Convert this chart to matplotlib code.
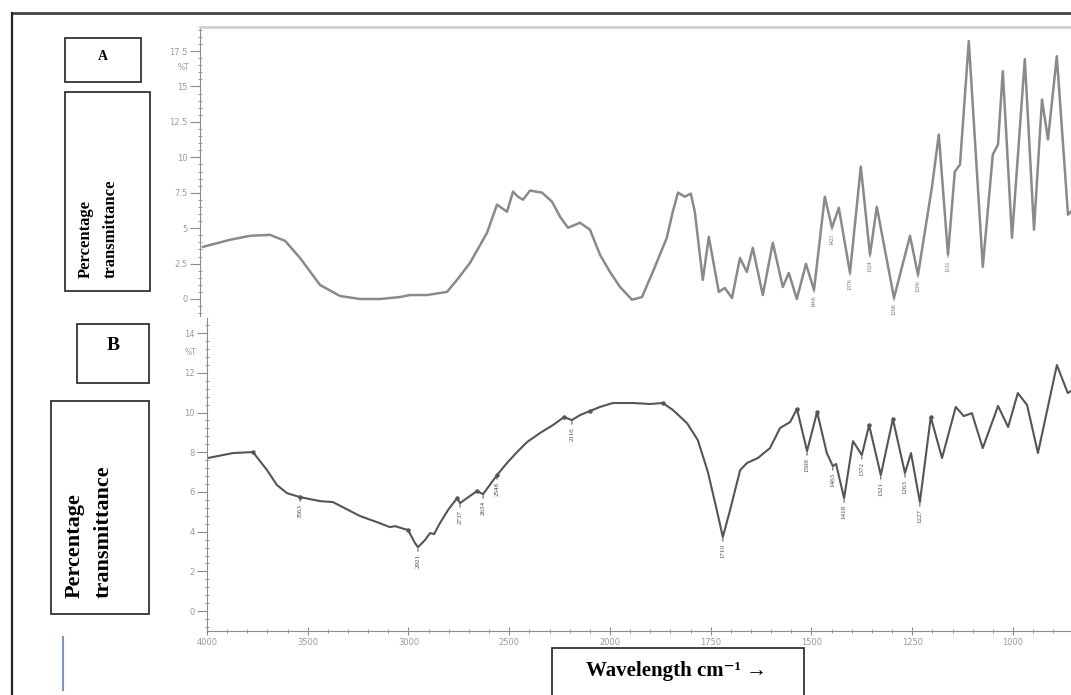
import matplotlib
matplotlib.use("Agg")
import matplotlib.pyplot as plt
import numpy as np
from matplotlib.patches import Rectangle
from matplotlib.lines import Line2D
from matplotlib.ticker import FixedLocator, MultipleLocator

W, H = 1071, 695

# ---- spectrum A (top panel), wavenumber cm-1 / %T
wn_a = [3985, 3850, 3750, 3650, 3575, 3500, 3400, 3300, 3200, 3100, 3000, 2950,
        2865, 2765, 2715, 2650, 2565, 2515, 2465, 2435, 2410, 2385, 2350, 2290,
        2240, 2200, 2160, 2100, 2050, 2000, 1975, 1950, 1920, 1895, 1868, 1833,
        1818, 1805, 1788, 1773, 1763, 1743, 1728, 1703, 1688, 1670, 1650, 1633,
        1618, 1593, 1568, 1543, 1528, 1508, 1485, 1465, 1438, 1420, 1403, 1375,
        1348, 1325, 1308, 1265, 1225, 1205, 1170, 1153, 1130, 1113, 1100, 1078,
        1043, 1018, 1005, 993, 970, 938, 915, 895, 880, 858, 830, 823]
t_a = [3.68, 4.18, 4.46, 4.53, 4.11, 2.90, 0.99, 0.21, 0.0, 0.0, 0.14, 0.28,
       0.28, 0.50, 1.35, 2.55, 4.67, 6.66, 6.16, 7.58, 7.22, 7.01, 7.65, 7.51,
       6.87, 5.81, 5.03, 5.38, 4.89, 3.12, 1.91, 0.85, -0.05, 0.14, 1.91, 4.32,
       6.16, 7.51, 7.22, 7.44, 6.16, 1.35, 4.39, 0.50, 0.78, 0.07, 2.90, 1.91,
       3.61, 0.28, 3.97, 0.85, 1.84, 0.0, 2.48, 0.64, 7.22, 5.03, 6.44, 1.84,
       9.35, 3.12, 6.51, 0.07, 4.46, 1.70, 7.93, 11.61, 3.12, 8.99, 9.49, 18.20,
       2.27, 10.20, 10.91, 16.08, 4.32, 16.93, 4.89, 14.09, 11.26, 17.14, 5.95, 6.16]
lab_a_wn = [1465, 1420, 1375, 1325, 1265, 1205, 1130]
lab_a_t = [0.64, 5.03, 1.84, 3.12, 0.07, 1.70, 3.12]
lab_a_txt = ["1466", "1421", "1376", "1324", "1266", "1206", "1131"]

# ---- spectrum B (bottom panel)
wn_b = [3995, 3871, 3772, 3702, 3653, 3603, 3538, 3439, 3375, 3241, 3156, 3092,
        3067, 3002, 2968, 2953, 2918, 2893, 2873, 2844, 2804, 2759, 2744, 2710,
        2660, 2630, 2586, 2561, 2511, 2461, 2412, 2347, 2283, 2228, 2189, 2149,
        2099, 2050, 1993, 1943, 1901, 1869, 1844, 1809, 1782, 1757, 1735, 1720,
        1702, 1677, 1660, 1633, 1603, 1578, 1553, 1536, 1511, 1486, 1462, 1447,
        1439, 1419, 1397, 1375, 1357, 1328, 1298, 1268, 1253, 1231, 1204, 1176,
        1142, 1122, 1102, 1075, 1037, 1012, 988, 965, 938, 891, 864, 856]
t_b = [7.71, 7.96, 8.01, 7.10, 6.35, 5.94, 5.74, 5.54, 5.49, 4.79, 4.48, 4.23,
       4.28, 4.08, 3.43, 3.22, 3.58, 3.93, 3.88, 4.43, 5.09, 5.69, 5.44, 5.69,
       6.05, 5.89, 6.50, 6.85, 7.46, 8.01, 8.51, 8.97, 9.37, 9.77, 9.62, 9.87,
       10.08, 10.28, 10.48, 10.48, 10.43, 10.48, 10.13, 9.47, 8.61, 7.00, 5.09, 3.73,
       5.09, 7.10, 7.46, 7.71, 8.21, 9.22, 9.52, 10.18, 8.06, 10.03, 7.96, 7.30,
       7.41, 5.69, 8.56, 7.86, 9.37, 6.85, 9.67, 6.95, 7.96, 5.49, 9.77, 7.71,
       10.28, 9.82, 9.97, 8.21, 10.33, 9.27, 10.98, 10.38, 7.96, 12.39, 10.98, 11.08]
dot_b_wn = [3772, 3538, 3002, 2759, 2660, 2561, 2228, 2099, 1869, 1536, 1486, 1357, 1298, 1204]
dot_b_t = [8.01, 5.74, 4.08, 5.69, 6.05, 6.85, 9.77, 10.08, 10.48, 10.18, 10.03, 9.37, 9.67, 9.77]
lab_b_wn = [3538, 2953, 2744, 2630, 2561, 2189, 1720, 1511, 1447, 1419, 1375, 1328, 1268, 1231]
lab_b_t = [5.74, 3.22, 5.44, 5.89, 6.85, 9.62, 3.73, 8.06, 7.30, 5.69, 7.86, 6.85, 6.95, 5.49]
lab_b_txt = ["3563", "2921", "2737", "2634", "2548", "2116", "1710",
             "1508", "1463", "1418", "1372", "1321", "1263", "1227"]

xticks = [4000, 3500, 3000, 2500, 2000, 1750, 1500, 1250, 1000]
yticks_a = [0, 2.5, 5, 7.5, 10, 12.5, 15, 17.5]
yticks_b = [0, 2, 4, 6, 8, 10, 12, 14]


def fwd(w):
    w = np.asarray(w, dtype=float)
    return np.where(w >= 2000, w, 2 * w - 2000)


def inv(s):
    s = np.asarray(s, dtype=float)
    return np.where(s >= 2000, s, (s + 2000) / 2)


def fpos(x0, y0, x1, y1):
    """pixel box -> figure rect"""
    return [x0 / W, 1 - y1 / H, (x1 - x0) / W, (y1 - y0) / H]


def box(fig, x0, y0, x1, y1, lw=1.3, color="#333333"):
    r = fpos(x0, y0, x1, y1)
    fig.add_artist(Rectangle((r[0], r[1]), r[2], r[3], transform=fig.transFigure,
                             fill=False, lw=lw, edgecolor=color))


def fline(fig, xs, ys, **kw):
    fig.add_artist(Line2D([x / W for x in xs], [1 - y / H for y in ys],
                          transform=fig.transFigure, **kw))


TICK_C = "#8c8c8c"
SERIF = ["Liberation Serif", "DejaVu Serif"]

fig = plt.figure(figsize=(W / 100, H / 100), dpi=100)

# ---------------- top panel
ax1 = fig.add_axes(fpos(200, 27, 1071, 316))
ax1.set_xscale("function", functions=(fwd, inv))
ax1.plot(wn_a, t_a, color="#8a8a8a", lw=1.8, solid_joinstyle="round")
ax1.set_xlim(4000, 822.5)
ax1.set_ylim(-1.2, 19.2)
for w, t, s in zip(lab_a_wn, lab_a_t, lab_a_txt):
    ax1.annotate(s, xy=(w, t), xytext=(0, -4), textcoords="offset points",
                 rotation=90, ha="center", va="top", fontsize=4.2, color="#707070",
                 family=SERIF,
                 arrowprops=dict(arrowstyle="-", lw=0.6, color="#777777",
                                 shrinkA=0, shrinkB=1))
ax1.set_xticks([])
ax1.yaxis.set_major_locator(FixedLocator(yticks_a))
ax1.set_yticklabels([f"{v:g}" for v in yticks_a])
ax1.yaxis.set_minor_locator(MultipleLocator(0.5))
ax1.tick_params(axis="y", which="major", length=7, width=0.8, color=TICK_C,
                labelsize=6, labelcolor="#9a9a9a", pad=2)
ax1.tick_params(axis="y", which="minor", length=3, width=0.6, color=TICK_C, direction="inout")
ax1.text(-0.012, 16.35, "%T", transform=ax1.get_yaxis_transform(), ha="right",
         va="center", fontsize=5.5, color="#9a9a9a")
for side in ["right", "bottom"]:
    ax1.spines[side].set_visible(False)
ax1.spines["left"].set_color(TICK_C)
ax1.spines["top"].set_color("#d0d0d0")
ax1.spines["top"].set_linewidth(2)

# ---------------- bottom panel
ax2 = fig.add_axes(fpos(207, 318, 1071, 631))
ax2.set_xscale("function", functions=(fwd, inv))
ax2.plot(wn_b, t_b, color="#555555", lw=1.5, solid_joinstyle="round")
ax2.plot(dot_b_wn, dot_b_t, "o", color="#555555", ms=2.2)
ax2.set_xlim(4000, 856)
ax2.set_ylim(-1.0, 14.76)
for w, t, s in zip(lab_b_wn, lab_b_t, lab_b_txt):
    ax2.annotate(s, xy=(w, t), xytext=(0, -5), textcoords="offset points",
                 rotation=90, ha="center", va="top", fontsize=5, color="#444444",
                 family=SERIF,
                 arrowprops=dict(arrowstyle="-", lw=0.7, color="#444444",
                                 shrinkA=0, shrinkB=1))
ax2.xaxis.set_major_locator(FixedLocator(xticks))
ax2.set_xticklabels([str(v) for v in xticks])
ax2.xaxis.set_minor_locator(FixedLocator(list(range(3900, 2000, -100)) + list(range(1950, 850, -50))))
ax2.yaxis.set_major_locator(FixedLocator(yticks_b))
ax2.set_yticklabels([str(v) for v in yticks_b])
ax2.yaxis.set_minor_locator(MultipleLocator(0.4))
ax2.tick_params(axis="both", which="major", width=0.8, color=TICK_C,
                labelsize=6, labelcolor="#9a9a9a", pad=2)
ax2.tick_params(axis="y", which="major", length=7)
ax2.tick_params(axis="x", which="major", length=6, direction="inout")
ax2.tick_params(axis="both", which="minor", length=3, width=0.6, color=TICK_C, direction="inout")
ax2.text(-0.012, 13.0, "%T", transform=ax2.get_yaxis_transform(), ha="right",
         va="center", fontsize=5.5, color="#9a9a9a")
for side in ["right", "top"]:
    ax2.spines[side].set_visible(False)
ax2.spines["left"].set_color(TICK_C)
ax2.spines["bottom"].set_color(TICK_C)

# ---------------- outer frame and label boxes
fline(fig, [12, 1071], [13, 13], color="#444444", lw=2)
fline(fig, [12, 12], [13, 695], color="#222222", lw=1.6)
fline(fig, [63, 63], [637, 690], color="#8595c8", lw=1.5)

box(fig, 65, 38, 141, 82)
fig.text(103 / W, 1 - 56 / H, "A", ha="center", va="center", fontsize=10,
         fontweight="bold", family=SERIF)
box(fig, 65, 92, 150, 291)
fig.text(86 / W, 1 - 278 / H, "Percentage", rotation=90, ha="center", va="bottom",
         fontsize=12, fontweight="bold", family=SERIF)
fig.text(111 / W, 1 - 278 / H, "transmittance", rotation=90, ha="center", va="bottom",
         fontsize=12, fontweight="bold", family=SERIF)

box(fig, 77, 324, 149, 383)
fig.text(113 / W, 1 - 346 / H, "B", ha="center", va="center", fontsize=14,
         fontweight="bold", family=SERIF)
box(fig, 51, 401, 149, 614)
fig.text(75 / W, 1 - 598 / H, "Percentage", rotation=90, ha="center", va="bottom",
         fontsize=16, fontweight="bold", family=SERIF)
fig.text(104 / W, 1 - 598 / H, "transmittance", rotation=90, ha="center", va="bottom",
         fontsize=16, fontweight="bold", family=SERIF)

box(fig, 552, 648, 804, 700)
fig.text(676 / W, 1 - 671 / H, "Wavelength cm\u207b\u00b9 \u2192", ha="center", va="center",
         fontsize=15, fontweight="bold", family=SERIF)

fig.savefig("out.png", dpi=100, facecolor="white")
